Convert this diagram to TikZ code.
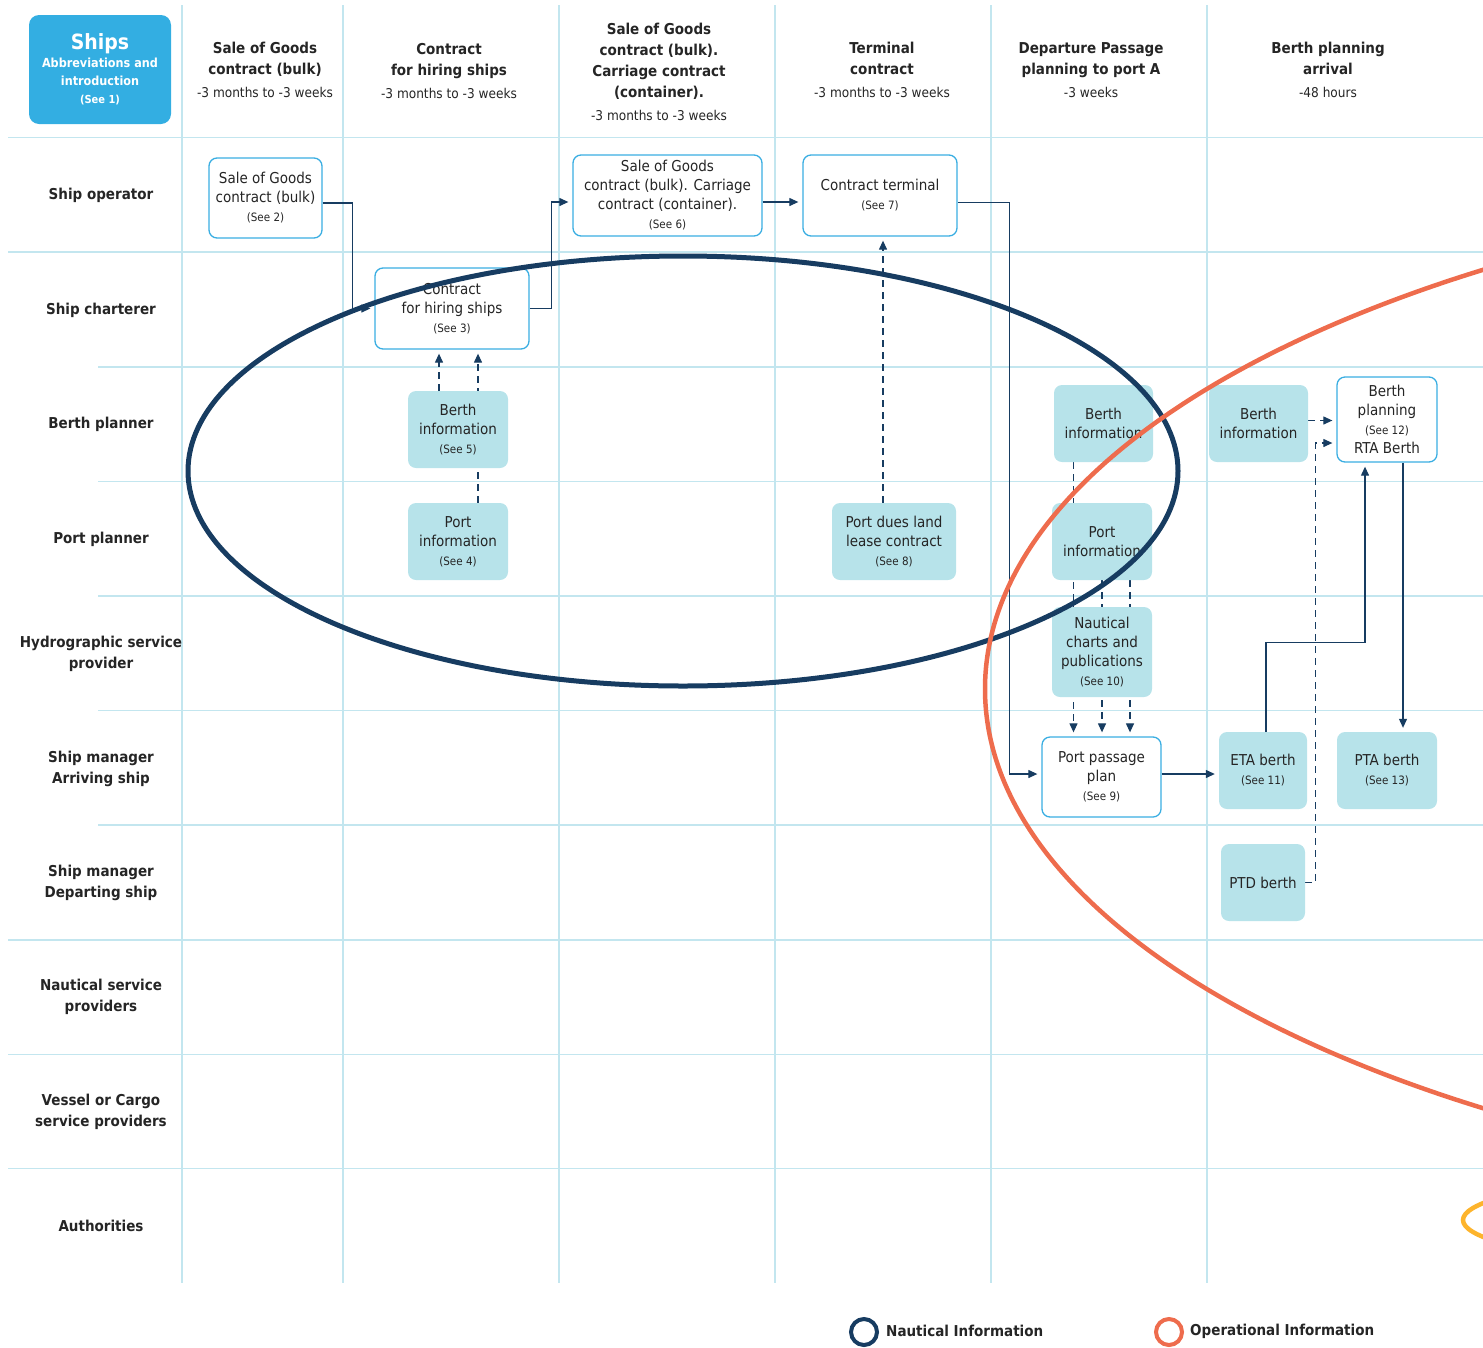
\documentclass[tikz,border=0pt]{standalone}
\usepackage{fontspec}
\setmainfont{DejaVu Sans Condensed}
\usetikzlibrary{arrows.meta,backgrounds}
\definecolor{navyc}{HTML}{173C61}
\definecolor{orangec}{HTML}{EE6C4D}
\definecolor{yellowc}{HTML}{FDB42C}
\definecolor{gridc}{HTML}{C3E6EF}
\definecolor{fillc}{HTML}{B7E3EA}
\definecolor{boxblue}{HTML}{3AAEE2}
\definecolor{shipblue}{HTML}{33AEE2}
\definecolor{inkc}{HTML}{252525}
\newcommand{\see}[1]{{\fontsize{11.5}{14}\selectfont(See #1)}}
\newcommand{\tm}[1]{{\mdseries\fontsize{13.5}{21}\selectfont #1}}

\begin{document}
\begin{tikzpicture}[x=1pt,y=-1pt,
    txt/.style={text=inkc,align=center,inner sep=0pt},
    hd/.style={txt,font=\bfseries\fontsize{15}{21}\selectfont},
    sz/.style 2 args={minimum width=#1pt,minimum height=#2pt},
    wbox/.style={txt,draw=boxblue,line width=1.3pt,fill=white,rounded corners=8pt,font=\fontsize{15}{19}\selectfont},
    fbox/.style={txt,fill=fillc,rounded corners=8pt,font=\fontsize{15}{19}\selectfont},
    grid/.style={draw=gridc,line width=1.2pt},
    flow/.style={draw=navyc,line width=1.2pt,shorten >=4pt,-{Triangle[length=9pt,width=8pt]}},
    dflow/.style={flow,dash pattern=on 7pt off 5pt},
    ring/.style={circle,line width=4pt,minimum size=26pt,inner sep=0pt}]
    \useasboundingbox (0,0) rectangle (1483,1347);
    \begin{pgfonlayer}{background}
        \foreach \x in {182,343,559,775,991,1207}
            \draw[grid] (\x,5) -- (\x,1283);
        \foreach \y in {137.5,252,940,1054.5,1168.5}
            \draw[grid] (8,\y) -- (1483,\y);
        \foreach \y in {367,481.5,596,710.5,825}
            \draw[grid] (98,\y) -- (1483,\y);
    \end{pgfonlayer}

    \node[txt,fill=shipblue,rounded corners=10pt,sz={142}{109},text=white,font=\bfseries\fontsize{12.5}{18}\selectfont] (ships) at (100,69.5)
        {{\fontsize{21}{24}\selectfont Ships}\\Abbreviations and\\introduction\\{\fontsize{11}{14}\selectfont(See 1)}};
    \node[hd] (h1) at (265,70) {Sale of Goods\\contract (bulk)\\[2pt]\tm{-3 months to -3 weeks}};
    \node[hd] (h2) at (449,71) {Contract\\for hiring ships\\[2pt]\tm{-3 months to -3 weeks}};
    \node[hd] (h3) at (659,72) {Sale of Goods\\contract (bulk).\\Carriage contract\\(container).\\[2pt]\tm{-3 months to -3 weeks}};
    \node[hd] (h4) at (882,70) {Terminal\\contract\\[2pt]\tm{-3 months to -3 weeks}};
    \node[hd] (h5) at (1091,70) {Departure Passage\\planning to port A\\[2pt]\tm{-3 weeks}};
    \node[hd] (h6) at (1328,70) {Berth planning\\arrival\\[2pt]\tm{-48 hours}};

    \foreach \n/\y/\lab in {1/195/Ship operator,2/310/Ship charterer,3/424/Berth planner,4/539/Port planner,
        5/654/Hydrographic service\\provider,6/769/Ship manager\\Arriving ship,7/883/Ship manager\\Departing ship,
        8/997/Nautical service\\providers,9/1112/Vessel or Cargo\\service providers,10/1226/Authorities}
        \node[hd] (r\n) at (101,\y) {\lab};

    \node[wbox,sz={113}{80}] (sog) at (265.5,198) {Sale of Goods\\contract (bulk)\\\see{2}};
    \node[wbox,sz={154}{81}] (hire) at (452,308.5) {Contract\\for hiring ships\\\see{3}};
    \node[wbox,sz={189}{81}] (sogc) at (667.5,195.5) {Sale of Goods\\contract (bulk). Carriage\\contract (container).\\\see{6}};
    \node[wbox,sz={154}{81}] (term) at (880,195.5) {Contract terminal\\\see{7}};
    \node[fbox,sz={100}{77}] (binfa) at (458,429.5) {Berth\\information\\\see{5}};
    \node[fbox,sz={100}{77}] (pinfa) at (458,541.5) {Port\\information\\\see{4}};
    \node[fbox,sz={124}{77}] (dues) at (894,541.5) {Port dues land\\lease contract\\\see{8}};
    \node[fbox,sz={99}{77}] (binfb) at (1103.5,423.5) {Berth\\information};
    \node[fbox,sz={100}{77}] (pinfb) at (1102,541.5) {Port\\information};
    \node[fbox,sz={100}{90}] (naut) at (1102,652) {Nautical\\charts and\\publications\\\see{10}};
    \node[wbox,sz={119}{80}] (ppp) at (1101.5,777) {Port passage\\plan\\\see{9}};
    \node[fbox,sz={99}{77}] (binfc) at (1258.5,423.5) {Berth\\information};
    \node[wbox,sz={100}{85}] (bplan) at (1387,419.5) {Berth\\planning\\\see{12}\\RTA Berth};
    \node[fbox,sz={88}{77}] (eta) at (1263,770.5) {ETA berth\\\see{11}};
    \node[fbox,sz={100}{77}] (pta) at (1387,770.5) {PTA berth\\\see{13}};
    \node[fbox,sz={84}{77}] (ptd) at (1263,882.5) {PTD berth};

    \begin{pgfonlayer}{background}
        \draw[flow] ([yshift=-5pt]sog.east) -- ++(30,0) |- (hire.west);
        \draw[flow] (hire.east) -- ++(22,0) |- ([yshift=-6.5pt]sogc.west);
        \draw[flow] ([yshift=-6.5pt]sogc.east) -- ([yshift=-6.5pt]term.west);
        \draw[flow] ([yshift=-7pt]term.east) -- ++(52,0) |- ([yshift=3pt]ppp.west);
        \draw[flow] ([yshift=3pt]ppp.east) -- ([yshift=3pt]ppp.east -| eta.west);
        \draw[flow] ([xshift=3pt]eta.north) -- ++(0,-89) -| ([xshift=-22pt]bplan.south);
        \draw[flow] ([xshift=16pt]bplan.south) -- ([xshift=16pt]bplan.south |- pta.north);
        \draw[dflow] ([yshift=3pt]binfc.east) -- ([yshift=3pt]binfc.east -| bplan.west);
        \draw[dflow] (ptd.east) -- ++(10,0) |- ([yshift=-23.5pt]bplan.west);
        \draw[dflow] ([xshift=-19pt]binfa.north) -- ([xshift=-19pt]binfa.north |- hire.south);
        \draw[dflow] ([xshift=20pt]pinfa.north) -- ([xshift=20pt]pinfa.north |- hire.south);
        \draw[dflow] ([xshift=-11pt]dues.north) -- ([xshift=-11pt]dues.north |- term.south);
        \draw[dflow] ([xshift=-30pt]binfb.south) -- ([xshift=-30pt]binfb.south |- ppp.north);
        \draw[dflow] (pinfb.south) -- (pinfb.south |- ppp.north);
        \draw[dflow] ([xshift=28pt]pinfb.south) -- ([xshift=28pt]pinfb.south |- ppp.north);
    \end{pgfonlayer}

    \begin{scope}
        \clip (0,0) rectangle (1483,1347);
        \draw[navyc,line width=5pt] (683,471) ellipse [x radius=495pt,y radius=215pt];
        \draw[orangec,line width=4.5pt] (2155,689) ellipse [x radius=1170pt,y radius=512pt];
        \draw[yellowc,line width=4.5pt] (1963,1220) ellipse [x radius=500pt,y radius=60pt];
    \end{scope}

    \node[ring,draw=navyc] (lgnav) at (864,1332) {};
    \node[hd,anchor=west] (lgnavt) at (886,1331) {Nautical Information};
    \node[ring,draw=orangec] (lgop) at (1169,1332) {};
    \node[hd,anchor=west] (lgopt) at (1190,1331) {Operational Information};
\end{tikzpicture}
\end{document}
